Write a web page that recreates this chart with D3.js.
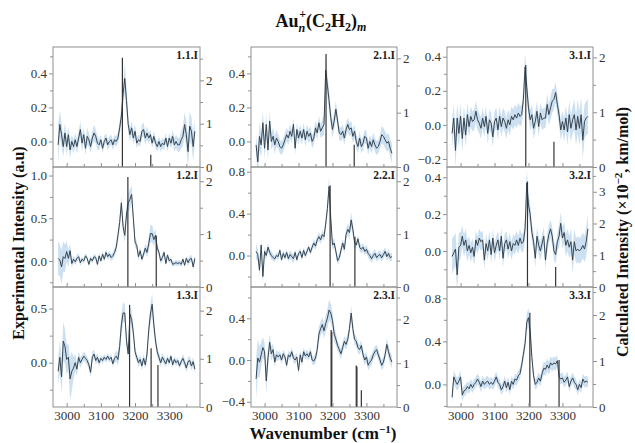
<!DOCTYPE html>
<html lang="en">
<head>
<meta charset="UTF-8">
<title>Au_n+(C2H2)_m IR spectra</title>
<script src="https://d3js.org/d3.v7.min.js"></script>
<style>
body{margin:0;background:#fff;}
text{font-family:"Liberation Serif","Times New Roman",serif;}
.axis path,.axis line{stroke:#8f8f8f;}
.axis text{fill:#333;font-size:13px;font-family:"Liberation Serif","Times New Roman",serif;}
.frame{fill:none;stroke:#8f8f8f;stroke-width:1;}
.band{fill:#c3dbee;opacity:0.85;}
.trace{fill:none;stroke:#36444f;stroke-width:1;}
.stick{stroke:#333;stroke-width:1.2;}
.plabel{font-weight:bold;font-size:11.5px;fill:#222;}
.atitle{font-weight:bold;font-size:16px;fill:#111;}
</style>
</head>
<body>
<script>
// wavenumber grid (cm-1) of the experimental traces
var wn = [2975,2980,2985,2990,2995,3000,3005,3010,3015,3020,3025,3030,3035,3040,3045,3050,3055,3060,3065,3070,
	3075,3080,3085,3090,3095,3100,3105,3110,3115,3120,3125,3130,3135,3140,3145,3150,3155,3160,3165,3170,
	3175,3180,3185,3190,3195,3200,3205,3210,3215,3220,3225,3230,3235,3240,3245,3250,3255,3260,3265,3270,
	3275,3280,3285,3290,3295,3300,3305,3310,3315,3320,3325,3330,3335,3340,3345,3350,3355,3360,3365,3370,3375];

// experimental intensity (a.u) and uncertainty
var exp11 = [-0.02,0.10,0.04,-0.03,0.05,-0.03,0.04,-0.05,0.00,-0.03,
	0.01,-0.03,0.02,0.07,-0.01,0.04,-0.04,0.03,0.01,-0.03,
	0.02,0.05,0.03,-0.01,-0.02,0.01,-0.04,0.00,0.02,-0.02,
	0.00,0.01,-0.02,0.01,0.00,0.02,0.08,0.15,0.28,0.37,
	0.24,0.10,0.04,0.08,0.02,0.06,-0.01,0.01,0.00,0.06,
	0.07,0.02,0.05,0.02,0.04,-0.01,0.03,-0.01,-0.03,0.00,
	-0.03,-0.01,-0.02,0.02,-0.03,0.02,-0.01,0.03,-0.02,0.00,
	-0.02,-0.02,0.01,0.03,0.10,0.04,-0.06,0.09,0.06,-0.03,0.06];
var err11 = [0.12,0.08,0.07,0.06,0.06,0.05,0.05,0.05,0.04,0.04,
	0.04,0.04,0.04,0.05,0.05,0.04,0.04,0.05,0.04,0.04,
	0.04,0.05,0.04,0.04,0.03,0.03,0.03,0.03,0.03,0.03,
	0.03,0.03,0.03,0.03,0.03,0.03,0.04,0.05,0.07,0.09,
	0.07,0.05,0.04,0.04,0.04,0.04,0.03,0.03,0.03,0.04,
	0.04,0.04,0.04,0.03,0.03,0.03,0.03,0.03,0.03,0.03,
	0.03,0.03,0.03,0.03,0.03,0.03,0.03,0.04,0.04,0.04,
	0.04,0.04,0.05,0.06,0.07,0.08,0.09,0.09,0.08,0.08,0.07];

var exp12 = [0.03,0.01,-0.07,0.05,0.03,0.11,0.03,0.12,-0.03,0.02,
	-0.01,0.03,0.05,-0.02,0.02,0.00,0.06,0.03,-0.04,0.03,
	0.00,0.05,0.04,-0.04,0.06,0.00,0.08,0.02,0.10,0.05,
	0.08,0.04,0.06,0.10,0.16,0.30,0.45,0.68,0.40,0.30,
	0.55,0.68,0.72,0.78,0.50,0.22,0.18,0.05,0.12,0.02,
	0.08,0.15,0.10,0.20,0.32,0.32,0.25,0.30,0.15,0.10,
	0.00,0.04,0.10,-0.03,0.07,0.00,0.02,-0.04,-0.03,-0.02,
	-0.03,-0.02,-0.04,0.02,-0.05,0.03,-0.02,0.02,0.03,-0.07,0.03];
var err12 = [0.20,0.18,0.20,0.18,0.16,0.12,0.10,0.08,0.05,0.04,
	0.04,0.04,0.04,0.04,0.03,0.03,0.03,0.03,0.03,0.03,
	0.03,0.03,0.03,0.03,0.03,0.03,0.03,0.03,0.04,0.04,
	0.04,0.04,0.04,0.05,0.06,0.07,0.08,0.09,0.08,0.08,
	0.09,0.10,0.12,0.10,0.08,0.06,0.05,0.05,0.04,0.04,
	0.04,0.05,0.06,0.08,0.10,0.10,0.08,0.07,0.05,0.04,
	0.04,0.04,0.03,0.03,0.03,0.03,0.03,0.03,0.03,0.03,
	0.03,0.03,0.03,0.03,0.03,0.03,0.04,0.04,0.04,0.04,0.04];

var exp13 = [-0.08,0.05,-0.13,0.20,0.15,0.03,0.05,-0.15,-0.08,-0.05,
	0.00,-0.06,0.05,0.00,0.03,0.06,0.04,0.02,-0.02,-0.09,
	0.05,0.08,0.02,0.05,0.00,0.04,0.02,0.05,0.03,0.06,
	0.03,0.05,-0.01,0.04,0.06,0.03,0.15,0.35,0.46,0.46,
	0.20,0.08,0.45,0.40,0.28,0.10,0.05,0.00,0.03,-0.03,
	0.04,-0.02,0.08,0.30,0.45,0.54,0.35,0.20,0.10,0.05,
	0.00,0.05,0.02,-0.01,0.04,0.00,0.06,-0.02,0.03,0.00,
	0.02,-0.03,0.01,0.04,0.00,-0.05,0.01,0.02,-0.03,0.01,-0.06];
var err13 = [0.12,0.15,0.15,0.18,0.16,0.14,0.12,0.20,0.18,0.10,
	0.08,0.06,0.05,0.05,0.04,0.04,0.04,0.04,0.04,0.05,
	0.05,0.04,0.04,0.04,0.03,0.03,0.03,0.03,0.03,0.03,
	0.03,0.03,0.03,0.04,0.05,0.06,0.08,0.10,0.10,0.08,
	0.06,0.05,0.08,0.08,0.06,0.05,0.04,0.04,0.04,0.04,
	0.04,0.04,0.05,0.07,0.09,0.10,0.08,0.06,0.05,0.04,
	0.04,0.04,0.04,0.03,0.03,0.03,0.03,0.03,0.03,0.03,
	0.03,0.03,0.03,0.04,0.04,0.04,0.04,0.04,0.04,0.04,0.04];

var exp21 = [-0.02,-0.12,0.03,-0.02,0.11,-0.04,0.10,-0.05,0.12,0.00,
	0.03,-0.02,0.02,0.00,-0.03,-0.04,-0.02,0.01,0.04,0.02,
	0.06,0.03,0.10,-0.04,0.07,0.02,0.06,0.02,0.07,0.01,
	0.06,0.03,0.05,0.00,0.02,0.08,0.05,0.11,0.06,0.08,
	0.10,0.42,0.33,0.24,0.14,0.07,0.12,0.19,0.12,0.05,
	0.04,0.06,0.02,0.07,0.10,0.07,0.08,0.03,0.06,0.00,
	-0.03,0.02,-0.03,-0.01,0.03,0.02,-0.04,0.00,-0.03,0.01,
	-0.02,-0.04,-0.03,0.00,0.04,0.03,0.01,-0.01,0.00,-0.04,-0.07];
var err21 = [0.06,0.08,0.08,0.07,0.07,0.06,0.06,0.06,0.06,0.05,
	0.05,0.05,0.05,0.04,0.04,0.04,0.04,0.04,0.04,0.04,
	0.04,0.04,0.04,0.04,0.04,0.04,0.04,0.04,0.04,0.04,
	0.04,0.04,0.04,0.04,0.04,0.04,0.04,0.04,0.04,0.05,
	0.06,0.08,0.07,0.06,0.05,0.05,0.05,0.05,0.04,0.04,
	0.04,0.04,0.04,0.04,0.04,0.04,0.04,0.04,0.04,0.04,
	0.04,0.04,0.04,0.04,0.04,0.04,0.04,0.04,0.04,0.04,
	0.04,0.04,0.04,0.04,0.05,0.05,0.05,0.05,0.05,0.05,0.06];

var exp22 = [0.04,0.01,-0.14,0.10,-0.20,0.04,0.00,0.08,0.03,0.00,
	-0.02,-0.03,0.00,-0.01,0.05,-0.04,0.02,-0.02,0.03,-0.03,
	0.01,-0.01,-0.03,0.03,-0.04,0.02,0.04,-0.02,0.05,0.00,
	0.04,0.08,0.03,0.08,0.12,0.09,0.15,0.18,0.15,0.20,
	0.18,0.30,0.45,0.66,0.35,0.10,0.12,0.04,-0.05,-0.02,
	0.05,0.12,0.06,0.20,0.25,0.22,0.34,0.25,0.13,0.10,
	0.16,0.08,0.06,0.08,0.04,0.06,0.02,0.00,-0.03,0.00,
	0.02,-0.02,0.00,0.01,-0.02,0.01,0.04,-0.01,0.02,-0.02,-0.01];
var err22 = [0.08,0.06,0.06,0.06,0.07,0.05,0.04,0.04,0.04,0.04,
	0.03,0.03,0.03,0.03,0.03,0.03,0.03,0.03,0.03,0.03,
	0.04,0.04,0.04,0.03,0.03,0.03,0.03,0.03,0.03,0.03,
	0.03,0.03,0.03,0.03,0.04,0.04,0.04,0.04,0.04,0.04,
	0.04,0.05,0.07,0.09,0.07,0.05,0.04,0.04,0.04,0.04,
	0.04,0.04,0.04,0.05,0.05,0.06,0.07,0.06,0.05,0.04,
	0.04,0.04,0.04,0.04,0.04,0.04,0.04,0.04,0.04,0.04,
	0.04,0.04,0.04,0.04,0.04,0.04,0.04,0.04,0.04,0.04,0.04];

var exp23 = [-0.18,0.02,-0.02,0.05,0.12,0.08,-0.20,0.02,0.17,0.06,
	0.10,-0.02,0.05,0.03,0.05,0.00,0.06,0.03,-0.05,0.05,
	0.03,0.08,0.02,0.00,0.03,-0.10,0.05,-0.02,0.08,0.04,
	0.06,0.03,0.08,0.00,-0.01,0.02,0.10,0.25,0.30,0.34,
	0.28,0.35,0.40,0.48,0.45,0.38,0.25,0.20,0.14,0.10,
	0.06,0.12,0.18,0.15,0.20,0.30,0.45,0.30,0.20,0.18,
	0.12,0.10,0.14,0.05,0.00,0.03,-0.05,-0.02,0.00,0.05,
	0.08,0.10,0.05,0.00,-0.05,-0.02,0.05,0.15,0.08,0.02,-0.02];
var err23 = [0.20,0.18,0.15,0.12,0.10,0.08,0.12,0.10,0.08,0.07,
	0.06,0.05,0.05,0.04,0.04,0.04,0.04,0.04,0.04,0.04,
	0.04,0.04,0.04,0.04,0.04,0.04,0.04,0.04,0.04,0.04,
	0.04,0.04,0.04,0.04,0.04,0.05,0.06,0.07,0.07,0.07,
	0.07,0.08,0.09,0.10,0.09,0.08,0.07,0.06,0.05,0.05,
	0.05,0.05,0.05,0.05,0.05,0.06,0.07,0.06,0.05,0.05,
	0.05,0.05,0.05,0.05,0.05,0.05,0.05,0.05,0.05,0.05,
	0.05,0.05,0.05,0.05,0.05,0.05,0.05,0.06,0.06,0.06,0.06];

var exp31 = [-0.05,0.04,-0.15,0.04,-0.05,0.05,-0.08,0.04,-0.06,0.06,
	-0.01,0.05,0.02,0.03,0.08,0.03,0.01,-0.02,0.04,-0.01,
	0.05,-0.05,0.03,0.01,-0.07,0.02,0.04,-0.03,0.05,-0.01,
	0.04,0.02,-0.02,0.03,0.00,0.05,0.03,0.06,0.04,0.07,
	0.05,0.06,0.15,0.34,0.22,0.10,0.03,0.06,-0.02,0.02,
	0.08,-0.01,0.07,0.03,0.04,0.04,0.12,0.06,0.10,0.14,
	0.15,0.19,0.12,0.06,-0.03,0.02,-0.03,0.04,-0.04,0.06,
	-0.02,0.03,0.06,-0.03,0.05,-0.02,0.06,-0.09,0.02,0.04,0.05];
var err31 = [0.08,0.08,0.10,0.09,0.08,0.08,0.08,0.07,0.07,0.07,
	0.06,0.06,0.06,0.06,0.06,0.06,0.06,0.06,0.06,0.06,
	0.06,0.06,0.06,0.06,0.06,0.06,0.06,0.06,0.06,0.06,
	0.06,0.06,0.06,0.06,0.06,0.06,0.06,0.06,0.06,0.06,
	0.06,0.06,0.07,0.08,0.07,0.06,0.06,0.06,0.06,0.06,
	0.06,0.06,0.06,0.06,0.06,0.06,0.06,0.06,0.07,0.07,
	0.06,0.06,0.06,0.06,0.06,0.06,0.07,0.07,0.08,0.08,
	0.08,0.08,0.09,0.09,0.10,0.10,0.10,0.11,0.10,0.10,0.10];

var exp32 = [-0.03,-0.01,0.01,-0.13,0.02,0.03,0.08,0.03,0.06,0.00,
	0.03,-0.01,0.02,-0.03,0.06,0.03,0.07,0.05,0.06,-0.05,
	0.04,0.00,0.06,-0.02,0.07,-0.01,0.03,0.06,0.00,0.08,
	-0.04,0.04,0.06,0.01,0.05,0.00,0.04,0.03,0.06,0.03,
	0.07,0.04,0.05,0.12,0.37,0.25,0.20,0.10,0.05,-0.04,
	0.08,0.03,0.00,0.04,0.08,-0.05,0.04,0.09,0.12,0.08,
	0.00,-0.02,0.05,0.08,0.15,0.07,0.10,0.03,0.06,0.02,
	0.05,-0.05,0.05,0.00,0.01,0.00,0.01,0.03,0.01,0.05,0.12];
var err32 = [0.10,0.09,0.09,0.09,0.08,0.07,0.06,0.06,0.06,0.06,
	0.05,0.05,0.05,0.05,0.05,0.05,0.05,0.05,0.05,0.05,
	0.05,0.05,0.05,0.05,0.05,0.05,0.05,0.05,0.05,0.05,
	0.05,0.05,0.05,0.05,0.05,0.05,0.05,0.05,0.05,0.05,
	0.05,0.05,0.05,0.06,0.07,0.06,0.06,0.05,0.05,0.05,
	0.05,0.05,0.05,0.05,0.05,0.05,0.05,0.05,0.05,0.05,
	0.05,0.05,0.05,0.06,0.06,0.06,0.06,0.06,0.06,0.06,
	0.07,0.07,0.07,0.07,0.07,0.07,0.07,0.07,0.07,0.08,0.08];

var exp33 = [-0.12,0.07,0.03,0.00,0.03,0.07,-0.10,-0.06,-0.05,-0.02,
	-0.04,0.00,-0.03,0.00,0.02,0.05,0.02,-0.02,0.03,0.00,
	0.02,0.03,0.00,0.02,0.00,0.03,0.07,0.02,0.00,-0.05,
	-0.02,0.03,-0.03,0.02,-0.05,0.03,0.00,0.05,0.04,0.08,
	0.10,0.18,0.28,0.38,0.58,0.62,0.50,0.25,0.08,0.00,
	0.02,0.06,0.03,0.10,0.15,0.14,0.18,0.15,0.20,0.18,
	0.20,0.19,0.22,0.07,0.05,0.06,0.02,0.04,0.07,-0.02,
	0.03,0.06,0.02,0.00,-0.05,0.00,-0.03,0.05,0.02,0.03,0.02];
var err33 = [0.06,0.06,0.06,0.06,0.06,0.06,0.06,0.05,0.05,0.05,
	0.05,0.05,0.05,0.05,0.05,0.05,0.05,0.05,0.05,0.05,
	0.05,0.05,0.05,0.05,0.05,0.05,0.05,0.05,0.05,0.05,
	0.05,0.05,0.05,0.05,0.05,0.05,0.05,0.05,0.05,0.05,
	0.05,0.05,0.06,0.07,0.08,0.09,0.08,0.06,0.05,0.05,
	0.05,0.05,0.05,0.06,0.06,0.06,0.06,0.06,0.06,0.06,
	0.06,0.06,0.05,0.05,0.05,0.05,0.05,0.05,0.05,0.05,
	0.05,0.05,0.05,0.05,0.05,0.05,0.05,0.05,0.05,0.05,0.05];

// calculated stick spectra [wavenumber, intensity x10^-2 km/mol]
var calc11 = [[3163,2.52],[3246,0.28]];
var calc12 = [[3179,2.08],[3262,0.97]];
var calc13 = [[3184,2.12],[3247,1.22],[3267,0.87]];
var calc21 = [[3181,2.08],[3264,0.41]];
var calc22 = [[3193,1.92],[3266,0.95]];
var calc23 = [[3196,1.76],[3198,1.72],[3270,0.95],[3272,0.92],[3285,0.38]];
var calc31 = [[3192,1.86],[3275,0.46]];
var calc32 = [[3197,3.32],[3280,0.63]];
var calc33 = [[3204,2.05],[3290,1.02]];

var xTicks = [3000,3100,3200,3300];
var xMinor = [3050,3150,3250,3350];

var panels = [
	{name:"1.1.I", col:0, row:0, exp:exp11, err:err11, calc:calc11, yDom:[-0.15,0.555], yT:[0,0.2,0.4], yM:[-0.1,0.1,0.3,0.5], rMax:2.77},
	{name:"1.2.I", col:0, row:1, exp:exp12, err:err12, calc:calc12, yDom:[-0.305,1.10], yT:[0,0.5,1.0], yM:[-0.25,0.25,0.75], rMax:2.27},
	{name:"1.3.I", col:0, row:2, exp:exp13, err:err13, calc:calc13, yDom:[-0.41,0.70], yT:[0,0.5], yM:[-0.25,0.25], rMax:2.49},
	{name:"2.1.I", col:1, row:0, exp:exp21, err:err21, calc:calc21, yDom:[-0.15,0.555], yT:[0,0.2,0.4], yM:[-0.1,0.1,0.3,0.5], rMax:2.21},
	{name:"2.2.I", col:1, row:1, exp:exp22, err:err22, calc:calc22, yDom:[-0.30,0.845], yT:[0,0.4,0.8], yM:[-0.2,0.2,0.6], rMax:2.27},
	{name:"2.3.I", col:1, row:2, exp:exp23, err:err23, calc:calc23, yDom:[-0.45,0.70], yT:[-0.4,0,0.4], yM:[-0.2,0.2,0.6], rMax:2.74},
	{name:"3.1.I", col:2, row:0, exp:exp31, err:err31, calc:calc31, yDom:[-0.247,0.457], yT:[-0.2,0,0.2,0.4], yM:[-0.1,0.1,0.3], rMax:2.19},
	{name:"3.2.I", col:2, row:1, exp:exp32, err:err32, calc:calc32, yDom:[-0.196,0.456], yT:[0,0.2,0.4], yM:[-0.1,0.1,0.3], rMax:3.78},
	{name:"3.3.I", col:2, row:2, exp:exp33, err:err33, calc:calc33, yDom:[-0.21,0.905], yT:[0,0.4,0.8], yM:[-0.2,0.2,0.6], rMax:2.61}
];

var W = 635, H = 443;
var colX = [53, 251, 447], colW = [147, 146, 146];
var rowY = [47, 167, 287], rowH = 120;
var serif = '"Liberation Serif","Times New Roman",serif';

var svg = d3.select("body").append("svg")
	.attr("width", W)
	.attr("height", H);

panels.forEach(function(p, k){
	var x0 = colX[p.col], w = colW[p.col];
	var y0 = rowY[p.row], h = rowH;

	var x = d3.scaleLinear().domain([2960, 3390]).range([x0, x0 + w]);
	var y = d3.scaleLinear().domain(p.yDom).range([y0 + h, y0]);
	var yr = d3.scaleLinear().domain([0, p.rMax]).range([y0 + h, y0]);

	var g = svg.append("g");

	svg.append("clipPath").attr("id", "clip" + k)
		.append("rect").attr("x", x0).attr("y", y0).attr("width", w).attr("height", h);

	var pts = wn.map(function(v, i){ return {w: v, v: p.exp[i], e: p.err[i]}; });

	var area = d3.area()
		.x(function(d){ return x(d.w); })
		.y0(function(d){ return y(d.v - d.e); })
		.y1(function(d){ return y(d.v + d.e); });

	var line = d3.line()
		.x(function(d){ return x(d.w); })
		.y(function(d){ return y(d.v); });

	var plot = g.append("g").attr("clip-path", "url(#clip" + k + ")");
	plot.append("path").datum(pts).attr("class", "band").attr("d", area);
	plot.append("path").datum(pts).attr("class", "trace").attr("d", line);

	plot.selectAll(".stick")
		.data(p.calc)
		.enter()
			.append("line")
			.attr("class", "stick")
			.attr("x1", function(d){ return x(d[0]); })
			.attr("x2", function(d){ return x(d[0]); })
			.attr("y1", yr(0))
			.attr("y2", function(d){ return yr(d[1]); });

	g.append("rect").attr("class", "frame")
		.attr("x", x0).attr("y", y0).attr("width", w).attr("height", h);

	// left axis: experimental
	g.append("g").attr("class", "axis")
		.attr("transform", "translate(" + x0 + ",0)")
		.call(d3.axisLeft(y).tickValues(p.yT).tickFormat(d3.format(".1f")).tickSize(4).tickPadding(2));
	g.append("g").attr("class", "axis")
		.attr("transform", "translate(" + x0 + ",0)")
		.call(d3.axisLeft(y).tickValues(p.yM).tickFormat("").tickSize(3));

	// right axis: calculated
	var rT = d3.range(0, Math.floor(p.rMax) + 1);
	var rM = rT.map(function(d){ return d + 0.5; }).filter(function(d){ return d < p.rMax; });
	g.append("g").attr("class", "axis")
		.attr("transform", "translate(" + (x0 + w) + ",0)")
		.call(d3.axisRight(yr).tickValues(rT).tickFormat(d3.format("d")).tickSize(4).tickPadding(2));
	g.append("g").attr("class", "axis")
		.attr("transform", "translate(" + (x0 + w) + ",0)")
		.call(d3.axisRight(yr).tickValues(rM).tickFormat("").tickSize(3));

	// bottom axis, ticks pointing inward
	g.append("g").attr("class", "axis")
		.attr("transform", "translate(0," + (y0 + h) + ")")
		.call(d3.axisBottom(x).tickValues(xTicks).tickSize(-4).tickPadding(4)
			.tickFormat(p.row == 2 ? d3.format("d") : ""));
	g.append("g").attr("class", "axis")
		.attr("transform", "translate(0," + (y0 + h) + ")")
		.call(d3.axisBottom(x).tickValues(xMinor).tickSize(-3).tickFormat(""));

	g.selectAll(".axis").attr("font-family", serif).attr("font-size", 13);
	g.selectAll(".axis path.domain").remove();

	g.append("text").attr("class", "plabel")
		.attr("x", x0 + w - 2)
		.attr("y", y0 + 12)
		.style("text-anchor", "end")
		.text(p.name);
});

// title
var title = svg.append("text")
	.attr("x", 321).attr("y", 27)
	.style("text-anchor", "middle")
	.style("font-weight", "bold")
	.style("font-size", "18px")
	.attr("fill", "#111");
title.append("tspan").text("Au");
title.append("tspan").attr("dy", 5).style("font-size", "12px").style("font-style", "italic").text("n");
title.append("tspan").attr("dx", -6).attr("dy", -14).style("font-size", "12px").text("+");
title.append("tspan").attr("dy", 9).text("(C");
title.append("tspan").attr("dy", 4).style("font-size", "12px").text("2");
title.append("tspan").attr("dy", -4).text("H");
title.append("tspan").attr("dy", 4).style("font-size", "12px").text("2");
title.append("tspan").attr("dy", -4).text(")");
title.append("tspan").attr("dy", 4).style("font-size", "12px").style("font-style", "italic").text("m");

// axis titles
svg.append("text").attr("class", "atitle")
	.attr("transform", "translate(24,243) rotate(-90)")
	.style("text-anchor", "middle")
	.text("Experimental Intensity (a.u)");

var rt = svg.append("text").attr("class", "atitle")
	.attr("transform", "translate(628,232) rotate(-90)")
	.style("text-anchor", "middle");
rt.append("tspan").text("Calculated Intensity (\u00d710");
rt.append("tspan").attr("dy", -6).style("font-size", "11px").text("\u22122");
rt.append("tspan").attr("dy", 6).text(", km/mol)");

var bt = svg.append("text").attr("class", "atitle")
	.attr("x", 323).attr("y", 439)
	.style("text-anchor", "middle")
	.style("font-size", "17px");
bt.append("tspan").text("Wavenumber (cm");
bt.append("tspan").attr("dy", -6).style("font-size", "11px").text("\u22121");
bt.append("tspan").attr("dy", 6).text(")");
</script>
</body>
</html>
